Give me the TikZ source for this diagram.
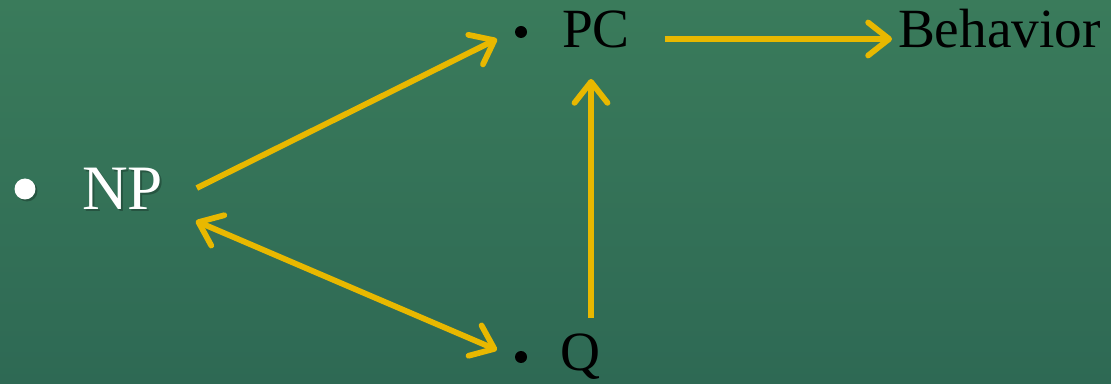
\documentclass[tikz,border=0pt]{standalone}
\usepackage{fontspec}
\setmainfont{Liberation Serif}
\usepackage{tikz}
\usetikzlibrary{arrows.meta,positioning,calc}
\definecolor{bgtop}{HTML}{3A7B5B}
\definecolor{bgbot}{HTML}{2E6954}
\definecolor{gold}{HTML}{E8B800}
\tikzset{
  lab/.style={inner sep=0pt,outer sep=0pt,anchor=base west,font=\fontsize{31.5}{36}\selectfont},
  arr/.style={-{Straight Barb[length=0.42cm,width=0.66cm,round]},line width=0.115cm,gold},
  darr/.style={{Straight Barb[length=0.42cm,width=0.66cm,round]}-{Straight Barb[length=0.42cm,width=0.66cm,round]},line width=0.115cm,gold},
}
\begin{document}
\begin{tikzpicture}[x=0.02cm,y=-0.02cm]
\shade[top color=bgtop,bottom color=bgbot] (0,0) rectangle (1111,384);
\useasboundingbox (0,0) rectangle (1111,384);
% labels
\node[lab,font=\fontsize{36}{42}\selectfont,text=black,opacity=0.25] (np-shadow) at (84,212) {NP};
\node[lab,font=\fontsize{36}{42}\selectfont,text=white] (np) at (82,210) {NP};
\node[lab] (pc) at (562,48) {PC};
\node[lab] (beh) at (898,48) {Behavior};
\node[lab] (q) at (560,371) {Q};
% bullets
\fill[black,opacity=0.25] ($(np.base west)+(-55,-19)$) circle (0.21cm);
\fill[white] ($(np.base west)+(-57,-21)$) circle (0.21cm);
\fill[black] ($(pc.base west)+(-41,-16)$) circle (0.12cm);
\fill[black] ($(q.base west)+(-39,-14)$) circle (0.12cm);
% arrows
\draw[arr] ($(np.base east)+(34,-22)$) -- ($(pc.base west)+(-65,-9)$);
\draw[darr] ($(np.base east)+(33,11)$) -- ($(q.base west)+(-63,-21)$);
\draw[arr] ($(q.base west)+(31,-53)$) -- ($(pc.base west)+(29,31)$);
\draw[arr] ($(pc.base east)+(35,-9)$) -- ($(beh.base west)+(-6,-9)$);
\end{tikzpicture}
\end{document}
